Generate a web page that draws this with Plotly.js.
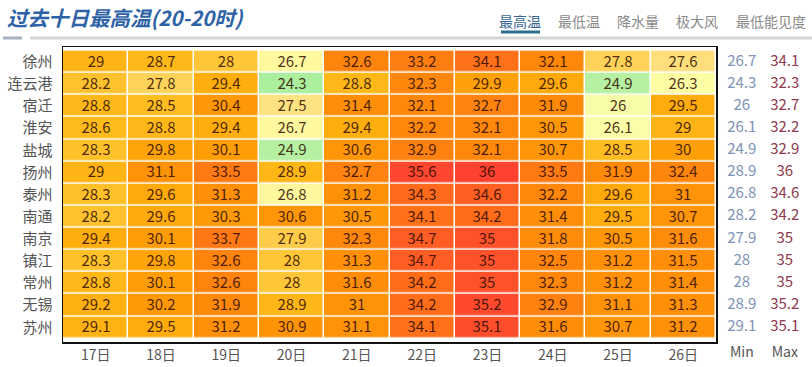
<!DOCTYPE html>
<html><head><meta charset="utf-8">
<script src="https://cdn.plot.ly/plotly-3.0.1.min.js"></script>
<style>html,body{margin:0;padding:0;background:#fff}#c{width:812px;height:367px}</style>
</head><body><div id="c"></div>
<script>
const days = ['17日','18日','19日','20日','21日','22日','23日','24日','25日','26日'];
const cities = ['徐州','连云港','宿迁','淮安','盐城','扬州','泰州','南通','南京','镇江','常州','无锡','苏州'];
const temps = [
  [29,28.7,28,26.7,32.6,33.2,34.1,32.1,27.8,27.6],
  [28.2,27.8,29.4,24.3,28.8,32.3,29.9,29.6,24.9,26.3],
  [28.8,28.5,30.4,27.5,31.4,32.1,32.7,31.9,26,29.5],
  [28.6,28.8,29.4,26.7,29.4,32.2,32.1,30.5,26.1,29],
  [28.3,29.8,30.1,24.9,30.6,32.9,32.1,30.7,28.5,30],
  [29,31.1,33.5,28.9,32.7,35.6,36,33.5,31.9,32.4],
  [28.3,29.6,31.3,26.8,31.2,34.3,34.6,32.2,29.6,31],
  [28.2,29.6,30.3,30.6,30.5,34.1,34.2,31.4,29.5,30.7],
  [29.4,30.1,33.7,27.9,32.3,34.7,35,31.8,30.5,31.6],
  [28.3,29.8,32.6,28,31.3,34.7,35,32.5,31.2,31.5],
  [28.8,30.1,32.6,28,31.6,34.2,35,32.3,31.2,31.4],
  [29.2,30.2,31.9,28.9,31,34.2,35.2,32.9,31.1,31.3],
  [29.1,29.5,31.2,30.9,31.1,34.1,35.1,31.6,30.7,31.2]
];
const minVals = [26.7,24.3,26,26.1,24.9,28.9,26.8,28.2,27.9,28,28,28.9,29.1];
const maxVals = [34.1,32.3,32.7,32.2,32.9,36,34.6,34.2,35,35,35,35.2,35.1];
const summaryLabels = ['Min','Max'];
const tabs = ['最高温','最低温','降水量','极大风','最低能见度'];

const font = '"Noto Sans CJK SC","Noto Sans",sans-serif';
const zmin = 24, zmax = 36;
const f = v => (v - zmin) / (zmax - zmin);
const colorscale = [
  [0, '#a6ee9c'], [f(24.9), '#b6f0a2'], [f(25.6), '#e6f9a6'], [f(26.2), '#ffffa6'],
  [f(27), '#fff39a'], [f(27.6), '#ffdf7c'], [f(28), '#ffc638'], [f(28.6), '#ffbb1c'],
  [f(29.5), '#ffac0c'], [f(30.2), '#ff9a06'], [f(31.5), '#ff8e08'], [f(33), '#ff8010'],
  [f(34), '#ff7416'], [f(34.8), '#ff5a26'], [f(35.2), '#ff4a2e'], [1, '#ff4230']
];

const heat = {
  type: 'heatmap', x: days, y: cities, z: temps,
  zmin: zmin, zmax: zmax, colorscale: colorscale, showscale: false,
  xgap: 1.5, ygap: 1.5,
  texttemplate: '%{z}', textfont: {family: font, size: 15, color: 'rgba(45,10,0,0.85)'},
  hoverinfo: 'x+y+z'
};
const minTrace = {
  type: 'scatter', mode: 'text', xaxis: 'x2', yaxis: 'y',
  x: cities.map(() => summaryLabels[0]), y: cities, text: minVals.map(String),
  textfont: {family: font, size: 15, color: '#7d92b4'}, hoverinfo: 'skip'
};
const maxTrace = {
  type: 'scatter', mode: 'text', xaxis: 'x2', yaxis: 'y',
  x: cities.map(() => summaryLabels[1]), y: cities, text: maxVals.map(String),
  textfont: {family: font, size: 15, color: '#8e3a4c'}, hoverinfo: 'skip'
};

const W = 812, L = 63, R = 10, T = 47, B = 25, plotW = W - L - R, plotH = 367 - T - B;
const heatRight = (716 - L) / plotW;
const xpx = p => (p - L) / plotW;
const ypx = p => 1 - (p - T) / plotH;

const tabX = [520, 579, 638, 697, 771];
const annotations = [
  {xref:'paper', yref:'paper', x: xpx(5), y: ypx(17), xanchor:'left', yanchor:'middle',
   text:'<b><i>过去十日最高温(20-20时)</i></b>', showarrow:false,
   font:{family:font, size:20.5, color:'#2e62a6'}}
];
tabs.forEach((t, i) => annotations.push({
  xref:'paper', yref:'paper', x: xpx(tabX[i]), y: ypx(21), xanchor:'center', yanchor:'middle',
  text:t, showarrow:false, font:{family:font, size:14, color: i===0 ? '#356494' : '#8a8a8a'}
}));

const layout = {
  width: 812, height: 367,
  margin: {l: L, r: R, t: T, b: B},
  paper_bgcolor: '#ffffff', plot_bgcolor: '#ffffff',
  showlegend: false,
  xaxis: {domain: [0, heatRight], type: 'category', showgrid: false, zeroline: false,
    showline: true, mirror: true, linecolor: '#111', linewidth: 1.5, ticks: '',
    tickfont: {family: font, size: 14, color: '#555'}},
  xaxis2: {domain: [heatRight, 1], type: 'category', anchor: 'y', range: [-0.6, 1.4],
    showgrid: false, zeroline: false, showline: false, ticks: '',
    tickfont: {family: font, size: 14, color: '#555'}},
  yaxis: {type: 'category', autorange: 'reversed', showgrid: false, zeroline: false,
    showline: true, mirror: true, linecolor: '#111', linewidth: 1.5, ticks: '',
    ticklabelstandoff: 6, tickfont: {family: font, size: 15, color: '#555'}},
  annotations: annotations,
  shapes: [
    {type:'line', xref:'paper', yref:'paper', x0:xpx(30), x1:xpx(812), y0:ypx(38), y1:ypx(38),
     line:{color:'#d6d6d6', width:3}},
    {type:'line', xref:'paper', yref:'paper', x0:xpx(3), x1:xpx(22), y0:ypx(38), y1:ypx(38),
     line:{color:'#a9b1c0', width:3}},
    {type:'line', xref:'paper', yref:'paper', x0:xpx(501), x1:xpx(540), y0:ypx(32), y1:ypx(32),
     line:{color:'#2c6e8c', width:3}}
  ]
};

Plotly.newPlot('c', [heat, minTrace, maxTrace], layout, {displayModeBar: false, staticPlot: true});
</script>
</body></html>
